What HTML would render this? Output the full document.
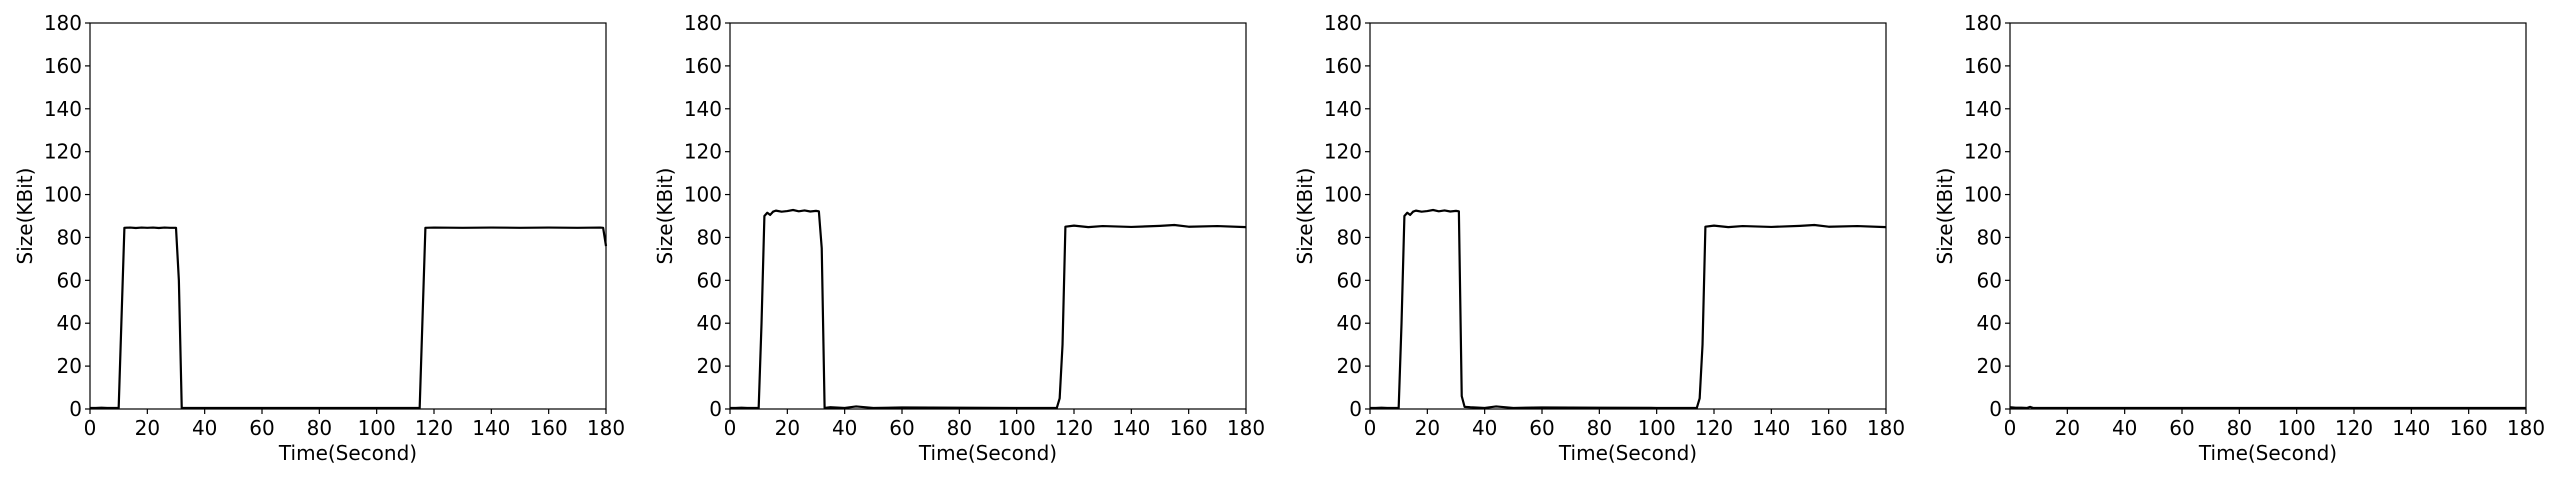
<!DOCTYPE html>
<html><head><meta charset="utf-8">
<style>
html,body{margin:0;padding:0;background:#fff;width:2560px;height:480px;overflow:hidden}
svg text{font-family:"DejaVu Sans","Liberation Sans",sans-serif;fill:#000}
</style></head>
<body>
<svg id="chart" width="2560" height="480" xmlns="http://www.w3.org/2000/svg"></svg>
<script>
const xTicks=[0,20,40,60,80,100,120,140,160,180];
const yTicks=[0,20,40,60,80,100,120,140,160,180];
const panel1T=[0,2,4,6,8,10,12,14,16,18,20,22,24,26,28,30,31,32,34,40,60,80,100,114,115,117,120,130,140,150,160,170,178,179,180];
const panel1V=[0.5,0.5,0.6,0.5,0.5,0.5,84.5,84.6,84.4,84.6,84.5,84.6,84.4,84.6,84.5,84.5,60,0.5,0.5,0.5,0.5,0.5,0.5,0.5,0.5,84.5,84.6,84.5,84.6,84.5,84.6,84.5,84.6,84.5,76];
const panel2T=[0,2,4,6,8,10,11,12,13,14,15,16,18,20,22,24,26,28,30,31,32,33,35,40,44,50,60,80,100,114,115,116,117,120,125,130,140,150,155,160,170,180];
const panel2V=[0.5,0.5,0.6,0.5,0.5,0.5,40,90,91.5,90.5,92,92.5,92,92.3,92.8,92.2,92.6,92.1,92.4,92.2,75,0.5,0.8,0.5,1.2,0.5,0.7,0.6,0.5,0.5,5,30,85,85.5,84.8,85.3,84.9,85.4,85.8,85,85.3,84.8];
const panel3T=[0,2,4,6,8,10,11,12,13,14,15,16,18,20,22,24,26,28,30,31,32,33,35,40,44,50,60,80,100,114,115,116,117,120,125,130,140,150,155,160,170,180];
const panel3V=[0.5,0.5,0.6,0.5,0.5,0.5,40,90,91.5,90.5,92,92.5,92,92.3,92.8,92.2,92.6,92.1,92.4,92.2,6,1,0.8,0.5,1.2,0.5,0.7,0.6,0.5,0.5,5,30,85,85.5,84.8,85.3,84.9,85.4,85.8,85,85.3,84.8];
const panel4T=[0,2,4,6,7,8,20,40,60,80,100,120,140,160,180];
const panel4V=[0.8,0.6,0.6,0.5,1.0,0.5,0.5,0.5,0.5,0.5,0.5,0.5,0.5,0.5,0.5];
const panelsT=[panel1T,panel2T,panel3T,panel4T];
const panelsV=[panel1V,panel2V,panel3V,panel4V];

const NS="http://www.w3.org/2000/svg";
const svg=document.getElementById('chart');
const W=516,H=386,TOP=23,XMAX=180,YMAX=180;
function mk(tag,attrs,parent){const e=document.createElementNS(NS,tag);for(const k in attrs)e.setAttribute(k,attrs[k]);parent.appendChild(e);return e;}
for(let p=0;p<4;p++){
  const L=90+p*640;
  const xs=v=>L+v/XMAX*W, ys=v=>TOP+H-v/YMAX*H;
  const g=mk('g',{},svg);
  
  
  const pts=panelsT[p].map((t,i)=>xs(t).toFixed(2)+','+ys(panelsV[p][i]).toFixed(2)).join(' ');
  const line=mk('polyline',{points:pts,fill:'none',stroke:'#000','stroke-width':2.2,'stroke-linejoin':'round'},g);
  
  
  const frame=mk('rect',{x:L,y:TOP,width:W,height:H,fill:'none',stroke:'#000','stroke-width':1.2},g);
  
  
  xTicks.forEach(t=>{
    mk('line',{x1:xs(t),x2:xs(t),y1:TOP+H,y2:TOP+H+5,stroke:'#000','stroke-width':1.2},g);
    const tx=mk('text',{x:xs(t),y:TOP+H+26,'text-anchor':'middle','font-size':20},g);
    tx.textContent=t;
    
    
  });
  yTicks.forEach(t=>{
    mk('line',{x1:L-5,x2:L,y1:ys(t),y2:ys(t),stroke:'#000','stroke-width':1.2},g);
    const ty=mk('text',{x:L-8,y:ys(t)+7,'text-anchor':'end','font-size':20},g);
    ty.textContent=t;
    
    
  });
  const xl=mk('text',{x:L+W/2,y:460,'text-anchor':'middle','font-size':20},g);
  xl.textContent='Time(Second)';
  
  
  const yl=mk('text',{x:0,y:0,'text-anchor':'middle','font-size':20,transform:'translate('+(L-58)+','+(TOP+H/2)+') rotate(-90)'},g);
  yl.textContent='Size(KBit)';
  
  
}
</script>
</body></html>
